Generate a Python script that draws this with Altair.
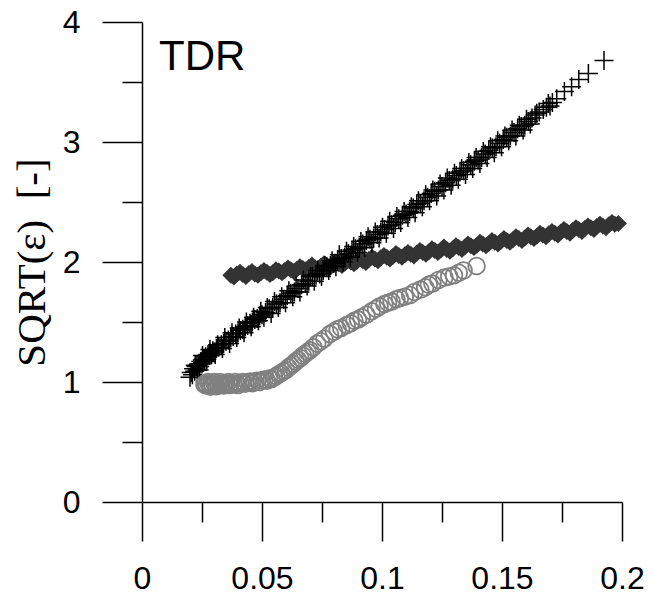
import altair as alt
import pandas as pd

# ---- series 1: black crosses ----
plus_x = [0.0200, 0.0205, 0.0210, 0.0215, 0.0220, 0.0225, 0.0230, 0.0235, 0.0240, 0.0245,
          0.0250, 0.0255, 0.0260, 0.0265, 0.0270, 0.0275, 0.0280, 0.0285, 0.0290, 0.0295,
          0.0300, 0.0310, 0.0320, 0.0330, 0.0340, 0.0350, 0.0360, 0.0370, 0.0380, 0.0390,
          0.0400, 0.0410, 0.0420, 0.0430, 0.0440, 0.0450, 0.0460, 0.0470, 0.0480, 0.0490,
          0.0500, 0.0515, 0.0530, 0.0545, 0.0560, 0.0575, 0.0590, 0.0605, 0.0620, 0.0635,
          0.0650, 0.0665, 0.0680, 0.0695, 0.0710, 0.0725, 0.0740, 0.0755, 0.0770, 0.0785,
          0.0800, 0.0815, 0.0830, 0.0845, 0.0860, 0.0875, 0.0890, 0.0905, 0.0920, 0.0935,
          0.0950, 0.0965, 0.0980, 0.0995, 0.1010, 0.1025, 0.1040, 0.1055, 0.1070, 0.1085,
          0.1100, 0.1115, 0.1130, 0.1145, 0.1160, 0.1175, 0.1190, 0.1205, 0.1220, 0.1235,
          0.1250, 0.1265, 0.1280, 0.1295, 0.1310, 0.1325, 0.1340, 0.1355, 0.1370, 0.1385,
          0.1400, 0.1415, 0.1430, 0.1445, 0.1460, 0.1475, 0.1490, 0.1505, 0.1520, 0.1535,
          0.1550, 0.1565, 0.1580, 0.1595, 0.1610, 0.1625, 0.1638, 0.1655, 0.1672, 0.1693,
          0.1710, 0.1728, 0.1760, 0.1790, 0.1820, 0.1860, 0.1925,
          0.0222, 0.0238, 0.0252, 0.0268, 0.0283, 0.0305, 0.0315, 0.0335, 0.0345, 0.0365,
          0.0375, 0.0395, 0.0405, 0.0425, 0.0435, 0.0455, 0.0465, 0.0485, 0.0495, 0.0508,
          0.0522, 0.0538, 0.0552, 0.0568, 0.0582, 0.0598, 0.0612, 0.0628, 0.0642, 0.0658,
          0.0672, 0.0688, 0.0702, 0.0718, 0.0732, 0.0748, 0.0762, 0.0778, 0.0792, 0.0808,
          0.0822, 0.0838, 0.0852, 0.0868, 0.0882, 0.0898, 0.0912, 0.0928, 0.0942, 0.0958,
          0.0972, 0.0988, 0.1002, 0.1018, 0.1032, 0.1048, 0.1062, 0.1078, 0.1092, 0.1108,
          0.1122, 0.1138, 0.1152, 0.1168, 0.1182, 0.1198, 0.1212, 0.1228, 0.1242, 0.1258,
          0.1272, 0.1288, 0.1302, 0.1318, 0.1332, 0.1348, 0.1362, 0.1378, 0.1392, 0.1408,
          0.1422, 0.1438, 0.1452, 0.1468, 0.1482, 0.1498, 0.1512, 0.1528, 0.1542, 0.1558,
          0.1572, 0.1588, 0.1602, 0.1618, 0.1645, 0.1685, 0.1700]
plus_y = [1.04, 1.08, 1.06, 1.11, 1.09, 1.13, 1.10, 1.15, 1.13, 1.17,
          1.15, 1.19, 1.18, 1.21, 1.19, 1.23, 1.22, 1.24, 1.23, 1.26,
          1.25, 1.28, 1.29, 1.31, 1.32, 1.34, 1.35, 1.37, 1.38, 1.40,
          1.41, 1.43, 1.44, 1.46, 1.47, 1.49, 1.50, 1.52, 1.53, 1.55,
          1.56, 1.58, 1.61, 1.62, 1.65, 1.66, 1.69, 1.72, 1.74, 1.75,
          1.78, 1.81, 1.82, 1.84, 1.88, 1.89, 1.90, 1.93, 1.96, 1.97,
          1.99, 2.02, 2.03, 2.04, 2.07, 2.10, 2.11, 2.12, 2.15, 2.18,
          2.19, 2.20, 2.23, 2.25, 2.27, 2.30, 2.31, 2.33, 2.36, 2.39,
          2.40, 2.42, 2.45, 2.48, 2.49, 2.51, 2.54, 2.57, 2.59, 2.60,
          2.63, 2.66, 2.68, 2.69, 2.72, 2.75, 2.76, 2.78, 2.81, 2.84,
          2.85, 2.87, 2.90, 2.93, 2.95, 2.96, 2.99, 3.02, 3.04, 3.05,
          3.08, 3.11, 3.13, 3.14, 3.17, 3.20, 3.225, 3.25, 3.27, 3.32,
          3.33, 3.36, 3.42, 3.46, 3.52, 3.57, 3.68,
          1.14, 1.10, 1.22, 1.17, 1.27, 1.23, 1.31, 1.28, 1.37, 1.32,
          1.41, 1.37, 1.45, 1.41, 1.50, 1.46, 1.54, 1.51, 1.59, 1.54,
          1.62, 1.57, 1.67, 1.62, 1.71, 1.66, 1.76, 1.71, 1.80, 1.75,
          1.85, 1.80, 1.88, 1.84, 1.93, 1.88, 1.97, 1.93, 2.01, 1.96,
          2.06, 2.00, 2.09, 2.04, 2.13, 2.08, 2.17, 2.12, 2.21, 2.16,
          2.25, 2.20, 2.29, 2.24, 2.34, 2.28, 2.38, 2.33, 2.42, 2.37,
          2.46, 2.41, 2.51, 2.46, 2.56, 2.51, 2.60, 2.55, 2.65, 2.60,
          2.70, 2.64, 2.74, 2.69, 2.78, 2.73, 2.83, 2.78, 2.87, 2.82,
          2.92, 2.87, 2.96, 2.91, 3.01, 2.96, 3.05, 3.01, 3.10, 3.05,
          3.14, 3.10, 3.19, 3.15, 3.24, 3.29, 3.30]

# ---- series 2: dark grey diamonds ----
diam_x = [0.0370, 0.0395, 0.0420, 0.0445, 0.0470, 0.0495, 0.0520, 0.0545, 0.0570, 0.0595,
          0.0620, 0.0645, 0.0670, 0.0695, 0.0720, 0.0745, 0.0770, 0.0795, 0.0820, 0.0845,
          0.0870, 0.0895, 0.0920, 0.0945, 0.0970, 0.0995, 0.1020, 0.1045, 0.1070, 0.1095,
          0.1120, 0.1145, 0.1170, 0.1195, 0.1220, 0.1245, 0.1270, 0.1295, 0.1320, 0.1345,
          0.1370, 0.1395, 0.1420, 0.1445, 0.1470, 0.1495, 0.1520, 0.1545, 0.1570, 0.1595,
          0.1620, 0.1645, 0.1670, 0.1695, 0.1720, 0.1745, 0.1770, 0.1795, 0.1820, 0.1845,
          0.1870, 0.1895, 0.1920, 0.1945, 0.1970, 0.1985,
          0.0383, 0.0408, 0.0433, 0.0458, 0.0483, 0.0508, 0.0533, 0.0558, 0.0583, 0.0608,
          0.0633, 0.0658, 0.0683, 0.0708, 0.0733, 0.0758, 0.0783, 0.0808, 0.0833, 0.0858,
          0.0883, 0.0908, 0.0933, 0.0958, 0.0983, 0.1008, 0.1033, 0.1058, 0.1083, 0.1108,
          0.1133, 0.1158, 0.1183, 0.1208, 0.1233, 0.1258, 0.1283, 0.1308, 0.1333, 0.1358,
          0.1383, 0.1408, 0.1433, 0.1458, 0.1483, 0.1508, 0.1533, 0.1558, 0.1583, 0.1608,
          0.1633, 0.1658, 0.1683, 0.1708, 0.1733, 0.1758, 0.1783, 0.1808, 0.1833, 0.1858,
          0.1883, 0.1908, 0.1933, 0.1958]
diam_y = [1.89, 1.90, 1.895, 1.905, 1.90, 1.91, 1.915, 1.91, 1.925, 1.93,
          1.935, 1.94, 1.945, 1.955, 1.955, 1.965, 1.97, 1.975, 1.985, 1.99,
          2.00, 2.005, 2.01, 2.02, 2.025, 2.035, 2.04, 2.045, 2.055, 2.06,
          2.065, 2.075, 2.08, 2.085, 2.095, 2.10, 2.105, 2.11, 2.12, 2.125,
          2.135, 2.14, 2.15, 2.155, 2.165, 2.17, 2.18, 2.185, 2.195, 2.20,
          2.21, 2.215, 2.225, 2.235, 2.24, 2.25, 2.255, 2.265, 2.27, 2.28,
          2.285, 2.295, 2.30, 2.31, 2.315, 2.32,
          1.875, 1.915, 1.88, 1.92, 1.89, 1.93, 1.895, 1.935, 1.91, 1.95,
          1.92, 1.96, 1.935, 1.975, 1.945, 1.985, 1.955, 2.00, 1.97, 2.015,
          1.985, 2.03, 1.995, 2.04, 2.01, 2.055, 2.025, 2.07, 2.04, 2.08,
          2.05, 2.095, 2.065, 2.11, 2.08, 2.125, 2.09, 2.135, 2.105, 2.15,
          2.12, 2.165, 2.135, 2.18, 2.15, 2.195, 2.165, 2.21, 2.18, 2.225,
          2.195, 2.24, 2.21, 2.255, 2.225, 2.27, 2.24, 2.285, 2.255, 2.30,
          2.27, 2.315, 2.285, 2.33]

# ---- series 3: grey open circles ----
circ_x = [0.0260, 0.0265, 0.0270, 0.0275, 0.0280, 0.0285, 0.0290, 0.0295, 0.0300, 0.0305,
          0.0310, 0.0315, 0.0320, 0.0325, 0.0330, 0.0340, 0.0345, 0.0350, 0.0360, 0.0365,
          0.0370, 0.0380, 0.0390, 0.0395, 0.0400, 0.0410, 0.0420, 0.0430, 0.0440, 0.0450,
          0.0460, 0.0470, 0.0480, 0.0490, 0.0500, 0.0510, 0.0520, 0.0530, 0.0540, 0.0550,
          0.0560, 0.0570, 0.0580, 0.0590, 0.0600, 0.0610, 0.0620, 0.0630, 0.0640, 0.0650,
          0.0660, 0.0670, 0.0680, 0.0690, 0.0700, 0.0714, 0.0730, 0.0745, 0.0760, 0.0783,
          0.0800, 0.0815, 0.0830, 0.0853, 0.0870, 0.0885, 0.0900, 0.0915, 0.0935, 0.0957,
          0.0975, 0.0990, 0.1010, 0.1025, 0.1040, 0.1060, 0.1075, 0.1095, 0.1117, 0.1135,
          0.1160, 0.1180, 0.1195, 0.1210, 0.1235, 0.1260, 0.1280, 0.1300, 0.1320, 0.1340,
          0.1394]
circ_y = [0.98, 0.99, 0.97, 1.00, 0.98, 0.96, 0.99, 0.97, 1.00, 0.98,
          0.965, 0.99, 0.975, 1.00, 0.98, 0.97, 0.99, 0.98, 1.00, 0.975,
          0.99, 0.98, 1.00, 0.985, 0.975, 0.99, 1.00, 0.985, 0.995, 1.005,
          0.99, 1.00, 1.01, 1.00, 1.015, 1.02, 1.01, 1.03, 1.025, 1.04,
          1.05, 1.065, 1.075, 1.09, 1.10, 1.12, 1.135, 1.15, 1.17, 1.185,
          1.20, 1.22, 1.235, 1.25, 1.265, 1.29, 1.32, 1.34, 1.36, 1.40,
          1.42, 1.44, 1.45, 1.475, 1.49, 1.51, 1.52, 1.54, 1.56, 1.59,
          1.61, 1.63, 1.65, 1.66, 1.67, 1.69, 1.70, 1.71, 1.725, 1.75,
          1.77, 1.79, 1.81, 1.82, 1.85, 1.87, 1.88, 1.89, 1.91, 1.93,
          1.967]

x_major = [0, 0.05, 0.1, 0.15, 0.2]
x_minor = [0.025, 0.075, 0.125, 0.175]
y_major = [0, 1, 2, 3, 4]
y_minor = [0.5, 1.5, 2.5, 3.5]
y_title = "SQRT(\u03b5)\u00a0\u00a0[-]"
panel_label = "TDR"

df_plus = pd.DataFrame({"x": plus_x, "y": plus_y})
df_diam = pd.DataFrame({"x": diam_x, "y": diam_y})
df_circ = pd.DataFrame({"x": circ_x, "y": circ_y})

x_scale = alt.Scale(domain=[0, 0.2], nice=False, zero=False)
y_scale = alt.Scale(domain=[0, 4], nice=False, zero=False)

common = dict(tickColor="black", tickWidth=1.5, domainColor="black", domainWidth=1.5,
              grid=False, labelColor="black")

x_axis_major = alt.Axis(orient="bottom", values=x_major, format="~g", tickSize=39,
                        labelFont="Liberation Sans", labelFontSize=32, labelPadding=22,
                        labelFlush=False, labelOverlap=False, title=None, **common)
x_axis_minor = alt.Axis(orient="bottom", values=x_minor, tickSize=20, labels=False,
                        domain=False, title=None, tickColor="black", tickWidth=1.5, grid=False)
y_axis_major = alt.Axis(orient="left", values=y_major, format="~g", tickSize=40,
                        labelFont="Liberation Sans", labelFontSize=32, labelPadding=22,
                        labelFlush=False, labelOverlap=False,
                        title=y_title, titleFont="Liberation Serif", titleFontSize=41,
                        titleFontWeight="normal", titleColor="black", titleAngle=270,
                        titleX=-98, titleY=240, titleAlign="center",
                        titleBaseline="alphabetic", **common)
y_axis_minor = alt.Axis(orient="left", values=y_minor, tickSize=20, labels=False,
                        domain=False, title=None, tickColor="black", tickWidth=1.5, grid=False)

diamonds = alt.Chart(df_diam).mark_point(
    shape="diamond", filled=True, color="#333333", size=290, opacity=1, strokeWidth=0
).encode(
    x=alt.X("x:Q", scale=x_scale, axis=x_axis_major),
    y=alt.Y("y:Q", scale=y_scale, axis=y_axis_major),
)

plus = alt.Chart(df_plus).mark_point(
    shape="M-1,0L1,0M0,-1L0,1", filled=False, color="black", size=361,
    strokeWidth=1.5, opacity=1
).encode(
    x=alt.X("x:Q", scale=x_scale, axis=x_axis_minor),
    y=alt.Y("y:Q", scale=y_scale, axis=y_axis_minor),
)

circles = alt.Chart(df_circ).mark_point(
    shape="circle", filled=False, color="#808080", size=280, strokeWidth=1.8, opacity=1
).encode(
    x=alt.X("x:Q", scale=x_scale, axis=None),
    y=alt.Y("y:Q", scale=y_scale, axis=None),
)

label = alt.Chart(pd.DataFrame({"t": [panel_label]})).mark_text(
    align="left", baseline="alphabetic", font="Liberation Sans", fontSize=42, color="black"
).encode(x=alt.value(17), y=alt.value(48), text="t:N")

chart = alt.layer(diamonds, plus, circles, label).resolve_axis(
    x="independent", y="independent"
).properties(
    width=480, height=480,
    autosize=alt.AutoSizeParams(type="none"),
    padding={"left": 134, "top": 14, "right": 24, "bottom": 95},
).configure_view(stroke=None)

chart.save("out.html", embed_options={"renderer": "svg", "actions": False})
